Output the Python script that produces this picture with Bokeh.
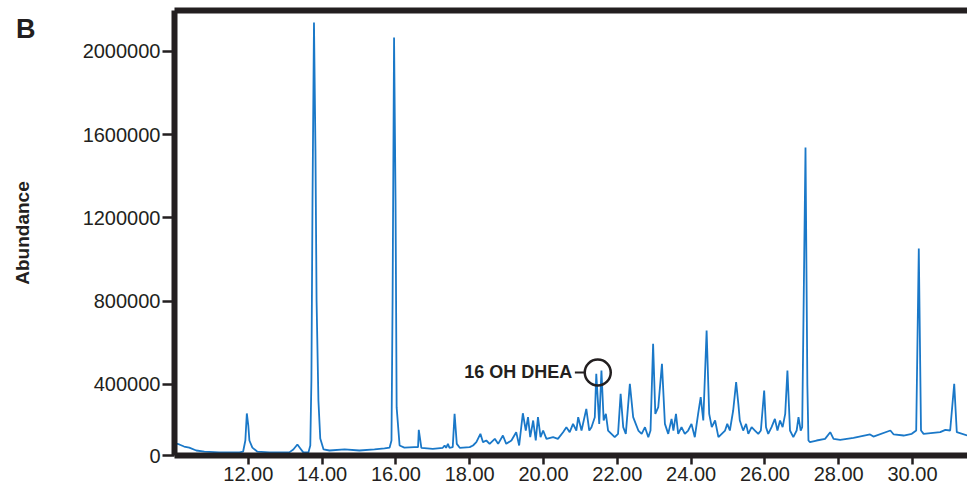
from bokeh.plotting import figure
from bokeh.models import FixedTicker, LinearAxis, Range1d, Label
from bokeh.embed import file_html
from bokeh.resources import INLINE

# ---- data (retention time in minutes, abundance) ----
time_min = [
    10.02, 10.13, 10.26, 10.40, 10.59, 10.81, 11.21, 11.76, 11.86, 11.92, 11.96, 12.00, 12.03, 12.11,
    12.24, 12.57, 13.11, 13.22, 13.33, 13.41, 13.49, 13.63, 13.68, 13.71, 13.74, 13.78, 13.82, 13.85,
    13.90, 13.95, 14.04, 14.20,
    14.61, 15.01, 15.42, 15.69, 15.83, 15.88, 15.91, 15.95, 15.99, 16.02, 16.10, 16.23, 16.50,
    16.60, 16.62, 16.69, 17.00, 17.27, 17.32, 17.36, 17.41, 17.45, 17.54, 17.59, 17.65, 17.73, 18.00,
    18.09, 18.18, 18.29, 18.36, 18.45, 18.54, 18.68, 18.77, 18.90, 18.99, 19.13, 19.26, 19.34, 19.44,
    19.52, 19.58, 19.64, 19.72, 19.79, 19.85, 19.92, 19.99, 20.08, 20.26, 20.39, 20.53, 20.62, 20.71,
    20.80, 20.89, 20.94, 21.03, 21.16, 21.24, 21.30, 21.39, 21.43, 21.51, 21.57, 21.63, 21.69, 21.75,
    21.84, 21.93, 22.02, 22.09, 22.16, 22.23, 22.34, 22.43, 22.50, 22.57, 22.66, 22.75,
    22.84, 22.90, 22.97, 23.03, 23.11, 23.21, 23.29, 23.38, 23.47, 23.52, 23.59, 23.65, 23.74, 23.83,
    23.92, 24.01, 24.10, 24.19, 24.26, 24.33, 24.42, 24.49, 24.56, 24.65, 24.74, 24.83, 24.92, 24.98,
    25.05, 25.14, 25.22, 25.28, 25.32, 25.41, 25.49, 25.55, 25.64, 25.73, 25.82, 25.89, 25.98, 26.03,
    26.09, 26.18, 26.27, 26.34, 26.41, 26.48, 26.55, 26.61, 26.68, 26.77, 26.86, 26.91, 26.97, 27.01,
    27.10, 27.15, 27.18, 27.22, 27.40, 27.63, 27.77, 27.86, 28.04, 28.40, 28.85, 28.94, 29.40, 29.49,
    29.76, 29.98, 30.10, 30.17, 30.23, 30.30, 30.75, 30.89, 31.02, 31.13, 31.20, 31.48,
]
abundance = [
    117000, 112000, 102000, 97000, 83000, 78000, 74000, 74000, 78000, 131000, 261000, 203000, 131000, 97000,
    78000, 74000, 74000, 88000, 112000, 93000, 74000, 74000, 107000, 419000, 1284000, 2138000, 1524000, 803000,
    323000, 141000, 88000, 83000,
    88000, 83000, 88000, 93000, 97000, 131000, 803000, 2066000, 1284000, 290000, 107000, 97000, 99000,
    99000, 182000, 96000, 91000, 96000, 107000, 96000, 115000, 96000, 99000, 259000, 115000, 96000, 99000,
    107000, 123000, 163000, 123000, 131000, 115000, 139000, 115000, 155000, 115000, 131000, 171000, 107000, 262000,
    179000, 243000, 147000, 227000, 131000, 243000, 147000, 179000, 139000, 147000, 139000, 171000, 195000, 171000,
    211000, 179000, 243000, 179000, 283000, 179000, 195000, 243000, 451000, 211000, 467000, 227000, 259000, 179000,
    163000, 147000, 163000, 355000, 195000, 163000, 403000, 243000, 211000, 179000, 163000, 195000,
    147000, 179000, 595000, 259000, 291000, 499000, 211000, 163000, 235000, 179000, 259000, 163000, 195000, 163000,
    179000, 211000, 147000, 259000, 339000, 227000, 659000, 259000, 195000, 227000, 147000, 163000, 179000, 211000,
    179000, 275000, 411000, 307000, 227000, 179000, 211000, 163000, 195000, 179000, 163000, 179000, 371000, 195000,
    163000, 195000, 235000, 179000, 227000, 195000, 259000, 467000, 179000, 147000, 179000, 243000, 179000, 195000,
    1538000, 400000, 131000, 123000, 131000, 139000, 171000, 139000, 134000, 144000, 160000, 150000, 179000, 160000,
    155000, 163000, 179000, 1053000, 179000, 163000, 171000, 182000, 179000, 403000, 171000, 155000,
]

x_ticks = [12, 14, 16, 18, 20, 22, 24, 26, 28, 30]
x_tick_labels = ["12.00", "14.00", "16.00", "18.00", "20.00", "22.00", "24.00", "26.00", "28.00", "30.00"]
y_ticks = [59000, 400000, 800000, 1200000, 1600000, 2000000]
y_tick_labels = ["0", "400000", "800000", "1200000", "1600000", "2000000"]

panel_letter = "B"
panel_letter_level = 2109000   # height of the panel letter on the abundance scale

marker_label = "16 OH DHEA"
marker_time = 21.47
marker_abundance = 457600
dash_start, dash_end = 20.85, 21.15
label_time = 20.78

INK = "#231f20"
BLUE = "#1a78c8"
FONT = "Liberation Sans"

p = figure(width=967, height=490, output_backend="svg", toolbar_location=None,
           x_range=Range1d(10.0, 31.49), y_range=Range1d(59000, 2196000),
           min_border_left=174, min_border_right=0, min_border_top=10, min_border_bottom=35,
           background_fill_color="white", border_fill_color="white", outline_line_color=None)
p.grid.visible = False

p.line(time_min, abundance, line_color=BLUE, line_width=1.8)

# annotation
p.segment(x0=[dash_start], y0=[marker_abundance], x1=[dash_end], y1=[marker_abundance],
          line_color=INK, line_width=2)
p.scatter([marker_time], [marker_abundance], size=26, fill_color=None, line_color=INK, line_width=2.5)
p.add_layout(Label(x=label_time, y=marker_abundance, text=marker_label, text_align="right",
                   text_baseline="middle", text_font=FONT, text_font_style="bold",
                   text_font_size="18px", text_color=INK))

# x axis
xa = p.xaxis[0]
xa.ticker = FixedTicker(ticks=x_ticks)
xa.major_label_overrides = dict(zip(x_ticks, x_tick_labels))
# y axis
ya = p.yaxis[0]
ya.ticker = FixedTicker(ticks=y_ticks)
ya.major_label_overrides = dict(zip(y_ticks, y_tick_labels))
ya.axis_label = "Abundance"
ya.axis_label_text_font = FONT
ya.axis_label_text_font_style = "bold"
ya.axis_label_text_font_size = "19px"
ya.axis_label_text_color = INK
ya.axis_label_standoff = 47

for ax in (xa, ya):
    ax.axis_line_width = 6
    ax.axis_line_color = INK
    ax.major_tick_line_width = 2.5
    ax.major_tick_line_color = INK
    ax.major_tick_in = 0
    ax.minor_tick_in = 0
    ax.minor_tick_out = 0
    ax.major_label_text_font = FONT
    ax.major_label_text_font_size = "20px"
    ax.major_label_text_color = INK
xa.major_tick_out = 9
xa.major_label_standoff = 2
ya.major_tick_out = 12
ya.major_label_standoff = 2

# thick top border
top = LinearAxis(ticker=FixedTicker(ticks=[]), major_tick_out=0, major_tick_in=0,
                 minor_tick_out=0, minor_tick_in=0, major_label_text_font_size="0px",
                 major_label_standoff=0, axis_line_width=6, axis_line_color=INK)
p.add_layout(top, "above")

# panel letter "B" at the top-left, outside the frame
tag_axis = LinearAxis(ticker=FixedTicker(ticks=[panel_letter_level]),
                      major_label_overrides={panel_letter_level: panel_letter},
                      axis_line_color=None, major_tick_line_color=None, major_tick_out=0,
                      major_tick_in=0, minor_tick_out=0, minor_tick_in=0,
                      major_label_standoff=-27, major_label_text_font=FONT,
                      major_label_text_font_style="bold", major_label_text_font_size="27px",
                      major_label_text_color=INK)
p.add_layout(tag_axis, "left")

open("out.html", "w").write(file_html(p, INLINE))
